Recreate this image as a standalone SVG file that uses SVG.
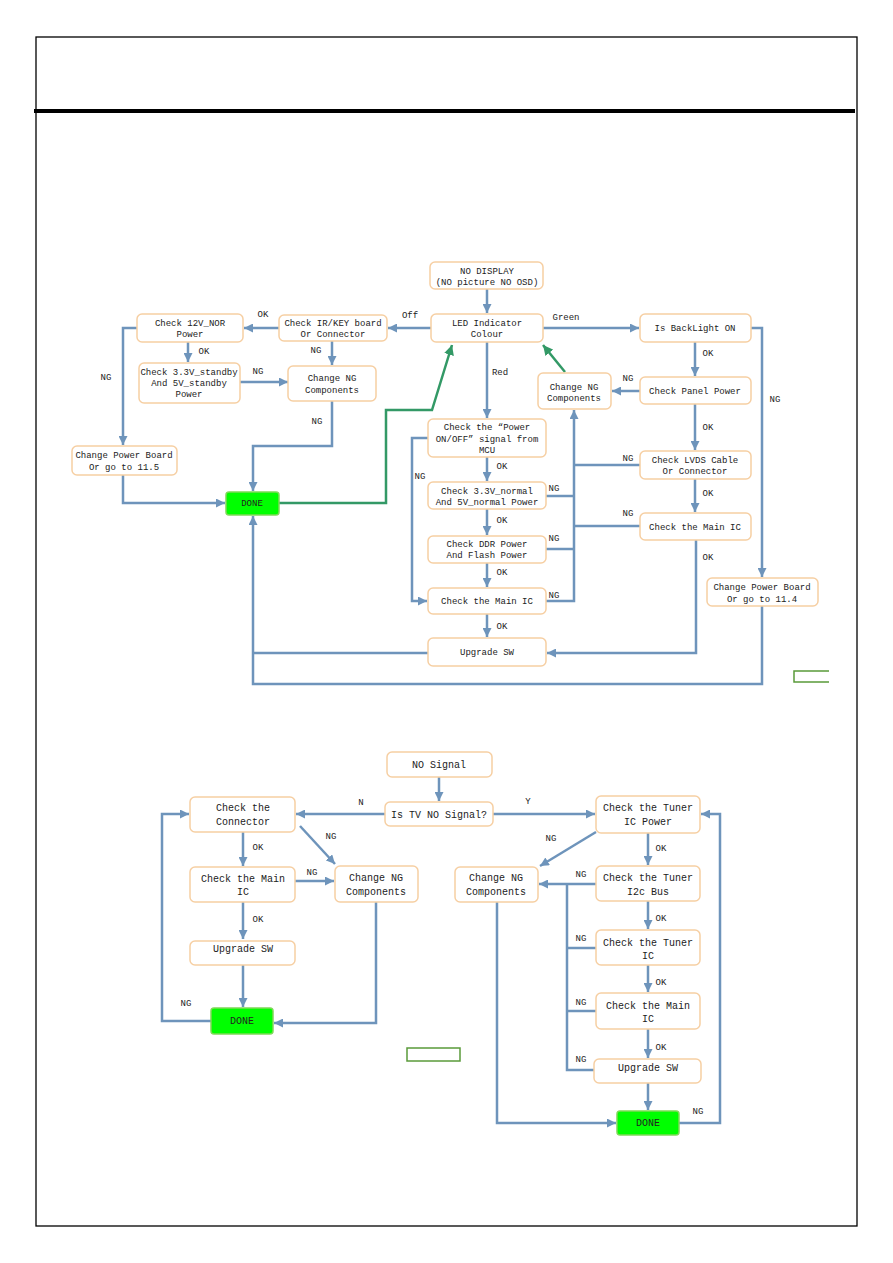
<svg xmlns="http://www.w3.org/2000/svg" width="893" height="1263" viewBox="0 0 893 1263">
<style>
.box{fill:#fff;stroke:#f6cfa3;stroke-width:1.5}
.done{fill:#00ff00;stroke:#7ed957;stroke-width:1.5}
.t{font-family:"Liberation Mono","DejaVu Sans Mono",monospace;font-size:9px;fill:#222;text-anchor:middle}
.b{font-size:10px}
.l{font-family:"Liberation Mono","DejaVu Sans Mono",monospace;font-size:9px;fill:#222;text-anchor:middle}
.c{fill:none;stroke:#6e94bb;stroke-width:2.5}
.g{fill:none;stroke:#339966;stroke-width:2.5}
</style>
<defs>
<marker id="a" viewBox="0 0 10 10" refX="10" refY="5" markerWidth="9" markerHeight="9" markerUnits="userSpaceOnUse" orient="auto"><path d="M0,0 L10,5 L0,10 z" fill="#6e94bb"/></marker>
<marker id="ag" viewBox="0 0 10 10" refX="10" refY="5" markerWidth="10" markerHeight="10" markerUnits="userSpaceOnUse" orient="auto"><path d="M0,0 L10,5 L0,10 z" fill="#339966"/></marker>
</defs>
<rect x="0" y="0" width="893" height="1263" fill="#fff"/>
<g id="page">
<rect x="36" y="37" width="821" height="1189" fill="none" stroke="#000" stroke-width="1.3"/>
<line x1="34" y1="111" x2="855" y2="111" stroke="#000" stroke-width="4"/>
<path d="M829,671 L794,671 L794,682 L829,682" fill="none" stroke="#5a9a3a" stroke-width="1.5"/>
<rect x="407" y="1048" width="53" height="13" fill="none" stroke="#5a9a3a" stroke-width="1.5"/>
</g>
<g id="connectors">
<!-- top -->
<path class="c" d="M487,289 V313" marker-end="url(#a)"/>
<path class="c" d="M431,328 H388" marker-end="url(#a)"/>
<path class="c" d="M279,328 H244" marker-end="url(#a)"/>
<path class="c" d="M188,342 V362" marker-end="url(#a)"/>
<path class="c" d="M240,382 H288" marker-end="url(#a)"/>
<path class="c" d="M332,341 V365" marker-end="url(#a)"/>
<path class="c" d="M137,328 H123 V445" marker-end="url(#a)"/>
<path class="c" d="M123,475 V503 H225" marker-end="url(#a)"/>
<path class="c" d="M332,401 V446 H253 V491" marker-end="url(#a)"/>
<path class="g" d="M279,503 H386 V410 H432 L452,345" marker-end="url(#ag)"/>
<path class="g" d="M565,372 L543,345" marker-end="url(#ag)"/>
<path class="c" d="M543,328 H639" marker-end="url(#a)"/>
<path class="c" d="M487,342 V418" marker-end="url(#a)"/>
<path class="c" d="M695,342 V376" marker-end="url(#a)"/>
<path class="c" d="M640,391 H612" marker-end="url(#a)"/>
<path class="c" d="M695,404 V450" marker-end="url(#a)"/>
<path class="c" d="M695,479 V512" marker-end="url(#a)"/>
<path class="c" d="M696,540 V653 H547" marker-end="url(#a)"/>
<path class="c" d="M751,328 H762 V577" marker-end="url(#a)"/>
<path class="c" d="M762,606 V684 H253 V516" marker-end="url(#a)"/>
<path class="c" d="M428,653 H253"/>
<path class="c" d="M546,601 H574 V410" marker-end="url(#a)"/>
<path class="c" d="M640,465 H574"/>
<path class="c" d="M640,526 H574"/>
<path class="c" d="M546,496 H574"/>
<path class="c" d="M546,549 H574"/>
<path class="c" d="M487,457 V481" marker-end="url(#a)"/>
<path class="c" d="M487,509 V535" marker-end="url(#a)"/>
<path class="c" d="M487,563 V587" marker-end="url(#a)"/>
<path class="c" d="M487,614 V637" marker-end="url(#a)"/>
<path class="c" d="M428,438 H412 V601 H427" marker-end="url(#a)"/>
<!-- bottom -->
<path class="c" d="M439,777 V801" marker-end="url(#a)"/>
<path class="c" d="M385,814 H296" marker-end="url(#a)"/>
<path class="c" d="M493,814 H595" marker-end="url(#a)"/>
<path class="c" d="M243,832 V866" marker-end="url(#a)"/>
<path class="c" d="M300,826 L335,864" marker-end="url(#a)"/>
<path class="c" d="M295,881 H334" marker-end="url(#a)"/>
<path class="c" d="M243,902 V939" marker-end="url(#a)"/>
<path class="c" d="M243,965 V1007" marker-end="url(#a)"/>
<path class="c" d="M376,902 V1023 H274" marker-end="url(#a)"/>
<path class="c" d="M211,1021 H162 V814 H189" marker-end="url(#a)"/>
<path class="c" d="M596,832 L540,866" marker-end="url(#a)"/>
<path class="c" d="M648,833 V865" marker-end="url(#a)"/>
<path class="c" d="M596,884 H539" marker-end="url(#a)"/>
<path class="c" d="M567,884 V1070 H594"/>
<path class="c" d="M567,948 H596"/>
<path class="c" d="M567,1011 H596"/>
<path class="c" d="M648,901 V929" marker-end="url(#a)"/>
<path class="c" d="M648,965 V992" marker-end="url(#a)"/>
<path class="c" d="M648,1029 V1058" marker-end="url(#a)"/>
<path class="c" d="M648,1083 V1110" marker-end="url(#a)"/>
<path class="c" d="M497,902 V1123 H616" marker-end="url(#a)"/>
<path class="c" d="M679,1123 H720 V814 H701" marker-end="url(#a)"/>
</g>
<g id="labels">
<text class="l" x="410" y="318">Off</text>
<text class="l" x="263" y="317">OK</text>
<text class="l" x="204" y="354">OK</text>
<text class="l" x="258" y="374">NG</text>
<text class="l" x="316" y="353">NG</text>
<text class="l" x="106" y="380">NG</text>
<text class="l" x="317" y="424">NG</text>
<text class="l" x="566" y="320">Green</text>
<text class="l" x="500" y="375">Red</text>
<text class="l" x="708" y="356">OK</text>
<text class="l" x="628" y="381">NG</text>
<text class="l" x="775" y="402">NG</text>
<text class="l" x="708" y="430">OK</text>
<text class="l" x="628" y="461">NG</text>
<text class="l" x="708" y="496">OK</text>
<text class="l" x="628" y="516">NG</text>
<text class="l" x="708" y="560">OK</text>
<text class="l" x="502" y="469">OK</text>
<text class="l" x="420" y="479">NG</text>
<text class="l" x="554" y="491">NG</text>
<text class="l" x="502" y="523">OK</text>
<text class="l" x="554" y="541">NG</text>
<text class="l" x="502" y="575">OK</text>
<text class="l" x="554" y="598">NG</text>
<text class="l" x="502" y="629">OK</text>
<text class="l b" x="361" y="805">N</text>
<text class="l b" x="528" y="804">Y</text>
<text class="l b" x="258" y="850">OK</text>
<text class="l b" x="331" y="839">NG</text>
<text class="l b" x="312" y="875">NG</text>
<text class="l b" x="258" y="922">OK</text>
<text class="l b" x="186" y="1006">NG</text>
<text class="l b" x="551" y="841">NG</text>
<text class="l b" x="661" y="851">OK</text>
<text class="l b" x="581" y="877">NG</text>
<text class="l b" x="661" y="921">OK</text>
<text class="l b" x="581" y="941">NG</text>
<text class="l b" x="661" y="985">OK</text>
<text class="l b" x="581" y="1005">NG</text>
<text class="l b" x="661" y="1050">OK</text>
<text class="l b" x="581" y="1062">NG</text>
<text class="l b" x="698" y="1114">NG</text>
</g>
<g id="n_nodisplay"><rect class="box" x="430" y="262" width="113" height="27" rx="5"/><text class="t" x="487" y="274">NO DISPLAY</text><text class="t" x="487" y="285">(NO picture NO OSD)</text></g>
<g id="n_led"><rect class="box" x="431" y="314" width="112" height="28" rx="5"/><text class="t" x="487" y="326">LED Indicator</text><text class="t" x="487" y="337">Colour</text></g>
<g id="n_irkey"><rect class="box" x="279" y="315" width="108" height="26" rx="5"/><text class="t" x="333" y="326">Check IR/KEY board</text><text class="t" x="333" y="337">Or Connector</text></g>
<g id="n_12v"><rect class="box" x="137" y="314" width="106" height="28" rx="5"/><text class="t" x="190" y="326">Check 12V_NOR</text><text class="t" x="190" y="337">Power</text></g>
<g id="n_standby"><rect class="box" x="139" y="363" width="101" height="40" rx="5"/><text class="t" x="189" y="375">Check 3.3V_standby</text><text class="t" x="189" y="386">And 5V_standby</text><text class="t" x="189" y="397">Power</text></g>
<g id="n_ngleft"><rect class="box" x="288" y="366" width="88" height="35" rx="5"/><text class="t" x="332" y="381">Change NG</text><text class="t" x="332" y="393">Components</text></g>
<g id="n_pb115"><rect class="box" x="72" y="446" width="105" height="29" rx="5"/><text class="t" x="124" y="458">Change Power Board</text><text class="t" x="124" y="470">Or go to 11.5</text></g>
<g id="n_done1"><rect class="done" x="226" y="492" width="53" height="23" rx="3"/><text class="t" x="252" y="506">DONE</text></g>
<g id="n_backlight"><rect class="box" x="640" y="314" width="111" height="28" rx="5"/><text class="t" x="695" y="331">Is BackLight ON</text></g>
<g id="n_ngmid"><rect class="box" x="538" y="373" width="73" height="36" rx="5"/><text class="t" x="574" y="390">Change NG</text><text class="t" x="574" y="401">Components</text></g>
<g id="n_panel"><rect class="box" x="640" y="377" width="111" height="27" rx="5"/><text class="t" x="695" y="394">Check Panel Power</text></g>
<g id="n_onoff"><rect class="box" x="428" y="419" width="118" height="38" rx="5"/><text class="t" x="487" y="430">Check the “Power</text><text class="t" x="487" y="442">ON/OFF” signal from</text><text class="t" x="487" y="453">MCU</text></g>
<g id="n_lvds"><rect class="box" x="640" y="451" width="111" height="28" rx="5"/><text class="t" x="695" y="463">Check LVDS Cable</text><text class="t" x="695" y="474">Or Connector</text></g>
<g id="n_normal"><rect class="box" x="428" y="482" width="118" height="27" rx="5"/><text class="t" x="487" y="494">Check 3.3V_normal</text><text class="t" x="487" y="505">And 5V_normal Power</text></g>
<g id="n_mainic_r"><rect class="box" x="640" y="513" width="111" height="27" rx="5"/><text class="t" x="695" y="530">Check the Main IC</text></g>
<g id="n_ddr"><rect class="box" x="428" y="536" width="118" height="27" rx="5"/><text class="t" x="487" y="547">Check DDR Power</text><text class="t" x="487" y="558">And Flash Power</text></g>
<g id="n_pb114"><rect class="box" x="707" y="578" width="111" height="28" rx="5"/><text class="t" x="762" y="590">Change Power Board</text><text class="t" x="762" y="602">Or go to 11.4</text></g>
<g id="n_mainic_c"><rect class="box" x="428" y="588" width="118" height="26" rx="5"/><text class="t" x="487" y="604">Check the Main IC</text></g>
<g id="n_upgrade1"><rect class="box" x="428" y="638" width="118" height="28" rx="5"/><text class="t" x="487" y="655">Upgrade SW</text></g>
<g id="n_nosignal"><rect class="box" x="387" y="752" width="105" height="25" rx="5"/><text class="t b" x="439" y="768">NO Signal</text></g>
<g id="n_istv"><rect class="box" x="385" y="802" width="108" height="24" rx="5"/><text class="t b" x="439" y="818">Is TV NO Signal?</text></g>
<g id="n_connector"><rect class="box" x="190" y="797" width="105" height="35" rx="5"/><text class="t b" x="243" y="811">Check the</text><text class="t b" x="243" y="825">Connector</text></g>
<g id="n_mainic_l"><rect class="box" x="190" y="867" width="105" height="35" rx="5"/><text class="t b" x="243" y="882">Check the Main</text><text class="t b" x="243" y="895">IC</text></g>
<g id="n_ng_bl"><rect class="box" x="335" y="866" width="83" height="36" rx="5"/><text class="t b" x="376" y="881">Change NG</text><text class="t b" x="376" y="895">Components</text></g>
<g id="n_upgrade_l"><rect class="box" x="190" y="941" width="105" height="24" rx="5"/><text class="t b" x="243" y="952">Upgrade SW</text></g>
<g id="n_done_l"><rect class="done" x="211" y="1008" width="62" height="26" rx="3"/><text class="t b" x="242" y="1024">DONE</text></g>
<g id="n_tunerpwr"><rect class="box" x="596" y="796" width="104" height="37" rx="5"/><text class="t b" x="648" y="811">Check the Tuner</text><text class="t b" x="648" y="825">IC Power</text></g>
<g id="n_ng_br"><rect class="box" x="455" y="867" width="83" height="35" rx="5"/><text class="t b" x="496" y="881">Change NG</text><text class="t b" x="496" y="895">Components</text></g>
<g id="n_i2c"><rect class="box" x="596" y="866" width="104" height="35" rx="5"/><text class="t b" x="648" y="881">Check the Tuner</text><text class="t b" x="648" y="895">I2c Bus</text></g>
<g id="n_tuneric"><rect class="box" x="596" y="930" width="104" height="35" rx="5"/><text class="t b" x="648" y="946">Check the Tuner</text><text class="t b" x="648" y="959">IC</text></g>
<g id="n_mainic_br"><rect class="box" x="596" y="993" width="104" height="36" rx="5"/><text class="t b" x="648" y="1009">Check the Main</text><text class="t b" x="648" y="1022">IC</text></g>
<g id="n_upgrade_r"><rect class="box" x="594" y="1059" width="107" height="24" rx="5"/><text class="t b" x="648" y="1071">Upgrade SW</text></g>
<g id="n_done_r"><rect class="done" x="617" y="1111" width="62" height="24" rx="3"/><text class="t b" x="648" y="1126">DONE</text></g>
</svg>
